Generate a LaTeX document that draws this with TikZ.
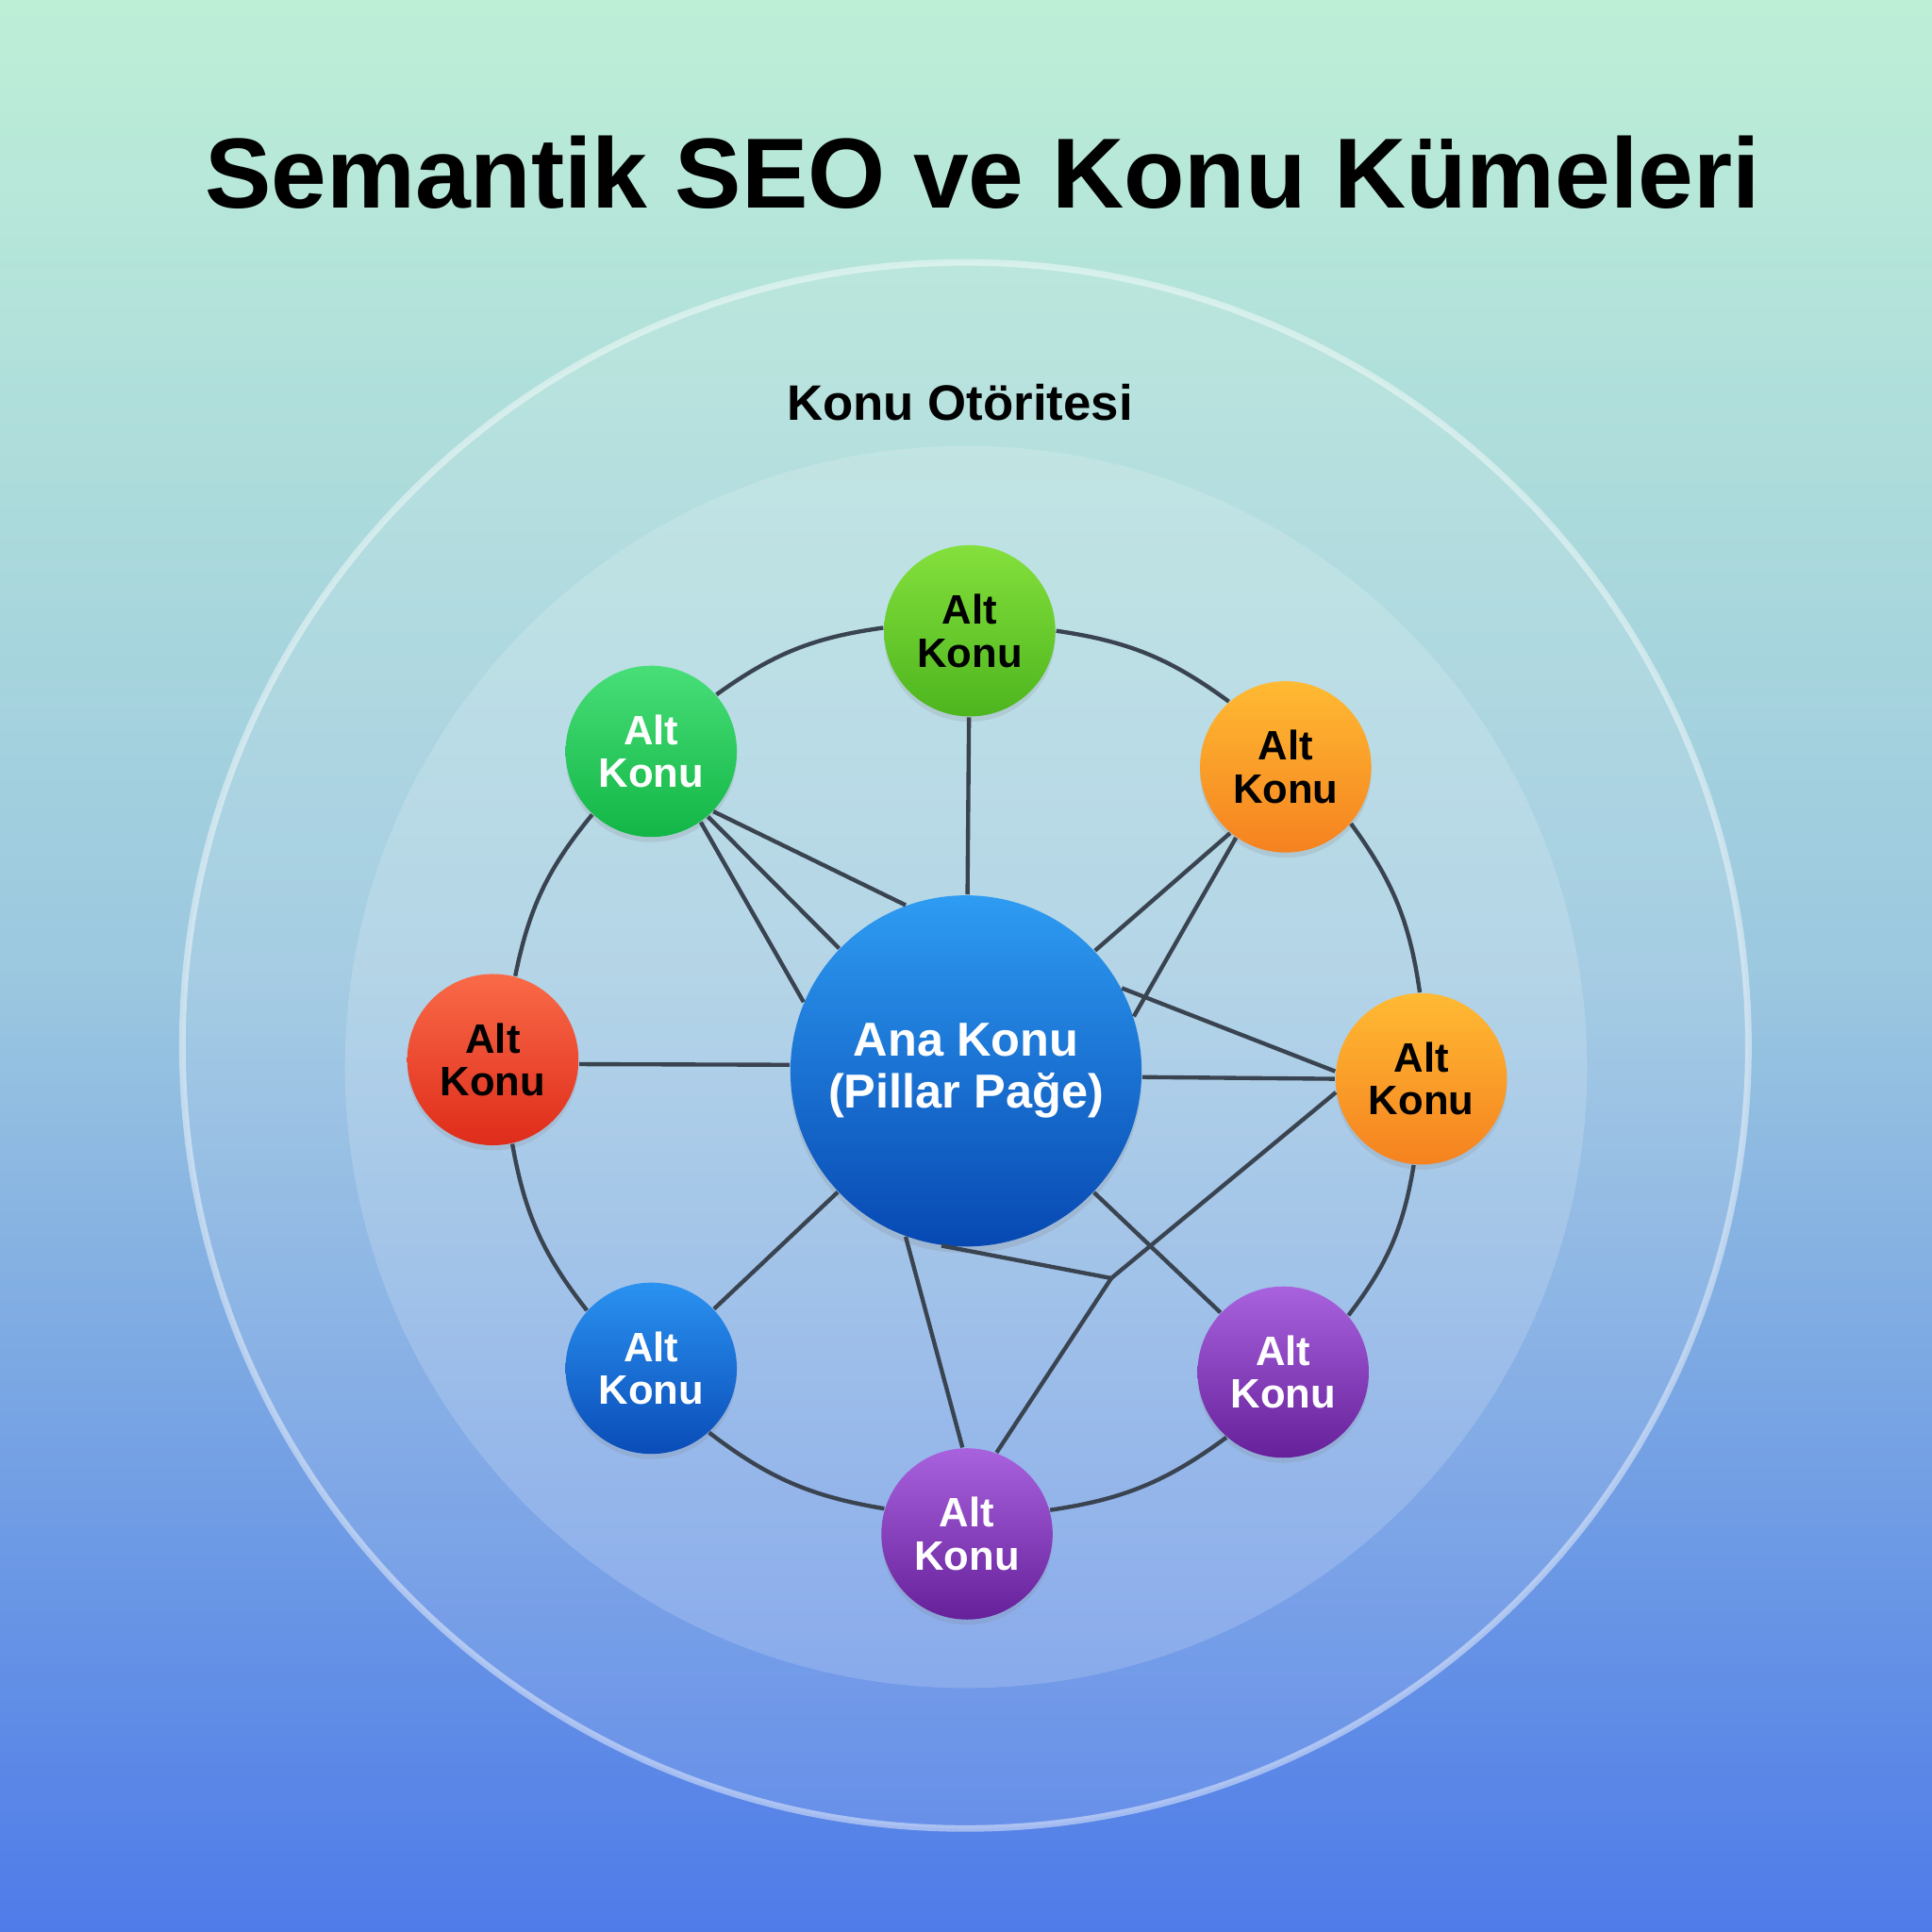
\documentclass[tikz,border=0pt]{standalone}
\usepackage{fontspec}
\setmainfont{Liberation Sans}
\usetikzlibrary{shadows}

\definecolor{bgtop}{HTML}{BDEFD7}
\definecolor{bgmid}{HTML}{9CC8E0}
\definecolor{bgbot}{HTML}{4E7BE8}
\definecolor{linkgray}{HTML}{3A4451}
\definecolor{limetop}{HTML}{84E03C}
\definecolor{limebot}{HTML}{4DB51E}
\definecolor{greentop}{HTML}{48DE78}
\definecolor{greenbot}{HTML}{12B646}
\definecolor{orangetop}{HTML}{FFBA33}
\definecolor{orangebot}{HTML}{F5821F}
\definecolor{redtop}{HTML}{F96A48}
\definecolor{redbot}{HTML}{DF2C1A}
\definecolor{bluetop}{HTML}{2A92F0}
\definecolor{bluebot}{HTML}{0A4CB8}
\definecolor{purpletop}{HTML}{A962DD}
\definecolor{purplebot}{HTML}{66209A}
\definecolor{pillartop}{HTML}{2E9CF2}
\definecolor{pillarbot}{HTML}{0748B2}

\tikzset{
  alt/.style 2 args={shape=circle, minimum size=1.39cm, inner sep=0pt, align=center,
    font=\bfseries\fontsize{9.5}{9.9}\selectfont, top color=#1, bottom color=#2,
    drop shadow={shadow xshift=0pt, shadow yshift=-1.2pt, opacity=.18}},
  pillar/.style={shape=circle, minimum size=2.85cm, inner sep=0pt, align=center, text=white,
    font=\bfseries\fontsize{11}{12}\selectfont, top color=pillartop, bottom color=pillarbot,
    drop shadow={shadow xshift=0pt, shadow yshift=-1.5pt, opacity=.2}},
  link/.style={-, line width=0.95pt, draw=linkgray},
}

\begin{document}
\begin{tikzpicture}
\useasboundingbox (0,0) rectangle (15.68,15.68);
% background and the two rings
\shade[top color=bgtop, bottom color=bgbot, middle color=bgmid] (0,0) rectangle (15.68,15.68);
\draw[white, line width=1.5pt, draw opacity=.45, fill=white, fill opacity=.1] (7.835,7.195) circle (6.355);
\fill[white, fill opacity=.17] (7.84,7.02) circle (5.04);

\node[font=\bfseries\fontsize{23}{27}\selectfont, anchor=base] (title) at (7.975, 13.99) {Semantik SEO ve Konu Kümeleri};
\node[font=\bfseries\fontsize{11.5}{13}\selectfont, anchor=base] (authority) at (7.79, 12.27) {Konu Otöritesi};

% pillar and sub topics
\node[pillar] (C) at (7.84, 6.988) {Ana Konu\\(Pillar Pağe)};
\node[alt={limetop}{limebot}, text=black] (T) at (7.87, 10.56) {Alt\\Konu};
\node[alt={greentop}{greenbot}, text=white] (UL) at (5.285, 9.582) {Alt\\Konu};
\node[alt={orangetop}{orangebot}, text=black] (UR) at (10.434, 9.456) {Alt\\Konu};
\node[alt={redtop}{redbot}, text=black] (L) at (4.0, 7.08) {Alt\\Konu};
\node[alt={orangetop}{orangebot}, text=black] (R) at (11.535, 6.924) {Alt\\Konu};
\node[alt={bluetop}{bluebot}, text=white] (LL) at (5.285, 4.575) {Alt\\Konu};
\node[alt={purpletop}{purplebot}, text=white] (B) at (7.848, 3.231) {Alt\\Konu};
\node[alt={purpletop}{purplebot}, text=white] (LR) at (10.414, 4.544) {Alt\\Konu};
\coordinate (J) at (9.019, 5.306);

% outer ring of sub topics
\path [link] (UL.41) edge[bend left=14] (T.178);
\path [link] (T.0) edge[bend left=14] (UR.131);
\path [link] (UR.-41) edge[bend left=14] (R.91);
\path [link] (R.265) edge[bend left=14] (LR.41);
\path [link] (LR.229) edge[bend left=14] (B.16);
\path [link] (B.163) edge[bend left=14] (LL.-48);
\path [link] (LL.138) edge[bend left=14] (L.-77);
\path [link] (L.75) edge[bend left=14] (UL.227);

% links to the pillar
\path [link] (T) edge (C);
\path [link] (UL.-44) edge (C.110);
\path [link] (UL.-49) edge (C.136);
\path [link] (UL.-55) edge (C.157);
\path [link] (UR.230) edge (C.43);
\path [link] (UR.235) edge (C.18);
\path [link] (C.28) edge (R.175);
\path [link] (C.-2.4) edge (R.180);
\path [link] (L.-3) edge (C.178);
\path [link] (LL) edge (C);
\path [link] (LR) edge (C);
\path [link] (B.93) edge (C.250);
\path [link] (C.-98) edge (J);
\path [link] (B.70) edge (J);
\path [link] (J) edge (R.189);
\end{tikzpicture}
\end{document}
